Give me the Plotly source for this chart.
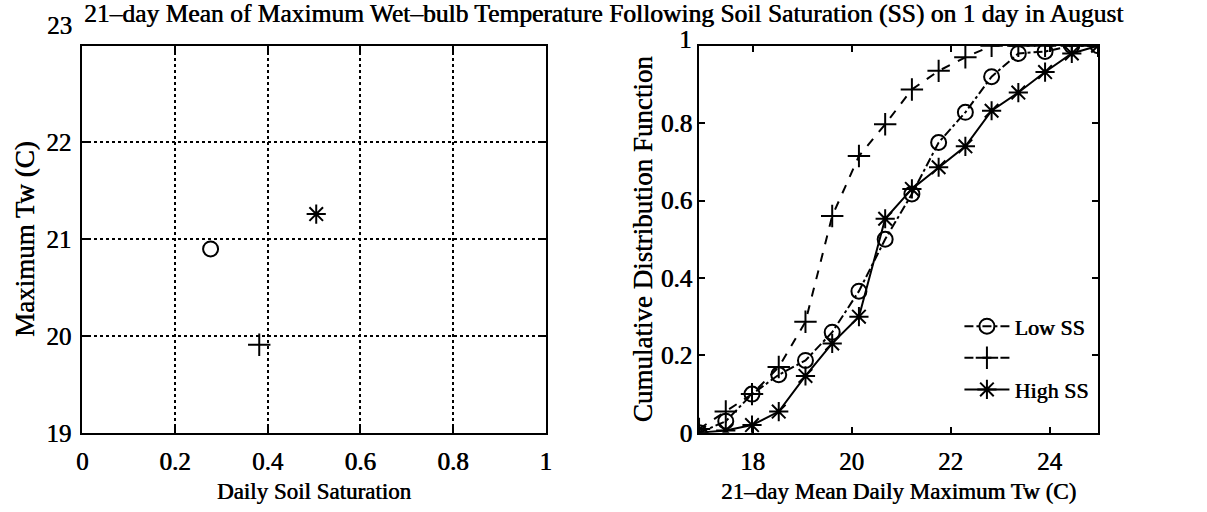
import plotly.graph_objects as go

# ---------------- data ----------------
# left panel: mean daily soil saturation vs maximum Tw
ss_x_low, ss_y_low = [0.277], [20.90]
ss_x_mid, ss_y_mid = [0.382], [19.91]
ss_x_high, ss_y_high = [0.505], [21.26]

# right panel: CDF of 21-day mean daily maximum Tw
tw_bins = [16.92, 17.46, 17.99, 18.53, 19.07, 19.61, 20.15, 20.68,
           21.22, 21.76, 22.30, 22.83, 23.37, 23.91, 24.45, 24.98]
cdf_low = [0.0, 0.03, 0.10, 0.15, 0.187, 0.26, 0.366, 0.50,
           0.617, 0.75, 0.828, 0.92, 0.98, 0.985, 1.0, 1.0]
cdf_mid = [0.01, 0.055, 0.10, 0.17, 0.287, 0.56, 0.715, 0.797,
           0.887, 0.935, 0.97, 1.0, 1.0, 1.0, 1.0, 1.0]
cdf_high = [0.0, 0.006, 0.02, 0.055, 0.147, 0.231, 0.30, 0.553,
            0.63, 0.686, 0.74, 0.832, 0.879, 0.932, 0.98, 1.0]

left_xticks = [0, 0.2, 0.4, 0.6, 0.8, 1]
left_xticktext = ["0", "0.2", "0.4", "0.6", "0.8", "1"]
left_yticks = [19, 20, 21, 22, 23]
left_yticktext = ["19", "20", "21", "22", ""]
right_xticks = [18, 20, 22, 24]
right_yticks = [0, 0.2, 0.4, 0.6, 0.8, 1]
right_yticktext = ["0", "0.2", "0.4", "0.6", "0.8", ""]

title = "21\u2013day Mean of Maximum Wet\u2013bulb Temperature Following Soil Saturation (SS) on 1 day in August"

FONT = "Liberation Serif"
BLACK = "black"
SHADOW = "0.6px 0 0 black"
TICK_SIZE = 25


def F(size):
    return dict(family=FONT, size=size, color=BLACK, shadow=SHADOW)


fig = go.Figure()

mk = dict(color=BLACK, line=dict(color=BLACK, width=2))

# left panel markers
fig.add_trace(go.Scatter(x=ss_x_low, y=ss_y_low, mode="markers", showlegend=False,
                         marker=dict(symbol="circle-open", size=15, **mk), xaxis="x", yaxis="y"))
fig.add_trace(go.Scatter(x=ss_x_mid, y=ss_y_mid, mode="markers", showlegend=False,
                         marker=dict(symbol="cross-thin-open", size=16, **mk), xaxis="x", yaxis="y"))
fig.add_trace(go.Scatter(x=ss_x_high, y=ss_y_high, mode="markers", showlegend=False,
                         marker=dict(symbol="asterisk-open", size=16, **mk), xaxis="x", yaxis="y"))

# right panel CDF lines
fig.add_trace(go.Scatter(x=tw_bins, y=cdf_low, mode="lines+markers", name="Low SS",
                         line=dict(color=BLACK, width=2, dash="dashdot"),
                         marker=dict(symbol="circle-open", size=15, **mk), xaxis="x2", yaxis="y2"))
fig.add_trace(go.Scatter(x=tw_bins, y=cdf_mid, mode="lines+markers", name=" ",
                         line=dict(color=BLACK, width=2, dash="dash"),
                         marker=dict(symbol="cross-thin-open", size=16, **mk), xaxis="x2", yaxis="y2"))
fig.add_trace(go.Scatter(x=tw_bins, y=cdf_high, mode="lines+markers", name="High SS",
                         line=dict(color=BLACK, width=2, dash="solid"),
                         marker=dict(symbol="asterisk-open", size=16, **mk), xaxis="x2", yaxis="y2"))

W, H = 1207, 512
TOP, BOT = 47, 445
axis_common = dict(showline=True, linecolor=BLACK, linewidth=2, mirror="ticks",
                   ticks="inside", ticklen=6, tickwidth=1.5, tickcolor=BLACK,
                   zeroline=False, tickfont=F(TICK_SIZE))

fig.update_layout(
    width=W, height=H,
    margin=dict(l=0, r=0, t=0, b=0),
    paper_bgcolor="white", plot_bgcolor="white",
    font=dict(family=FONT, color=BLACK),
    xaxis=dict(domain=[77 / W, 545 / W], range=[0, 1], tickvals=left_xticks,
               ticktext=left_xticktext, showgrid=True, gridcolor=BLACK, griddash="dot",
               gridwidth=1.5, ticklabelstandoff=5,
               title=dict(text="Daily Soil Saturation", font=F(23), standoff=9),
               anchor="y", **axis_common),
    yaxis=dict(domain=[1 - BOT / H, 1 - TOP / H], range=[19, 23], tickvals=left_yticks,
               ticktext=left_yticktext, showgrid=True, gridcolor=BLACK,
               griddash="dot", gridwidth=1.5, ticklabelstandoff=4,
               title=dict(text="Maximum Tw (C)", font=F(27), standoff=4),
               anchor="x", **axis_common),
    xaxis2=dict(domain=[700 / W, 1103 / W], range=[16.92, 24.98], tickvals=right_xticks,
                showgrid=False, ticklabelstandoff=5,
                title=dict(text="21\u2013day Mean Daily Maximum Tw (C)", font=F(23), standoff=9),
                anchor="y2", **axis_common),
    yaxis2=dict(domain=[1 - BOT / H, 1 - TOP / H], range=[0, 1], tickvals=right_yticks,
                ticktext=right_yticktext, showgrid=False, ticklabelstandoff=0,
                title=dict(text="Cumulative Distribution Function", font=F(27), standoff=0),
                anchor="x2", **axis_common),
    legend=dict(x=963 / W, y=1 - 314 / H, xanchor="left", yanchor="top",
                bgcolor="rgba(0,0,0,0)", borderwidth=0,
                font=F(22), tracegroupgap=0, itemwidth=45),
    annotations=[
        dict(text=title, x=0.5, y=1, xref="paper", yref="paper", xanchor="center", yanchor="top",
             yshift=3, showarrow=False, font=F(25.5)),
        dict(text="23", x=0, y=23, xref="x", yref="y", xanchor="right", yanchor="middle",
             xshift=-8, yshift=20, showarrow=False, font=F(TICK_SIZE)),
        dict(text="1", x=16.92, y=1, xref="x2", yref="y2", xanchor="right", yanchor="middle",
             xshift=-5, yshift=6, showarrow=False, font=F(TICK_SIZE)),
    ],
)

fig.write_html("out.html")
